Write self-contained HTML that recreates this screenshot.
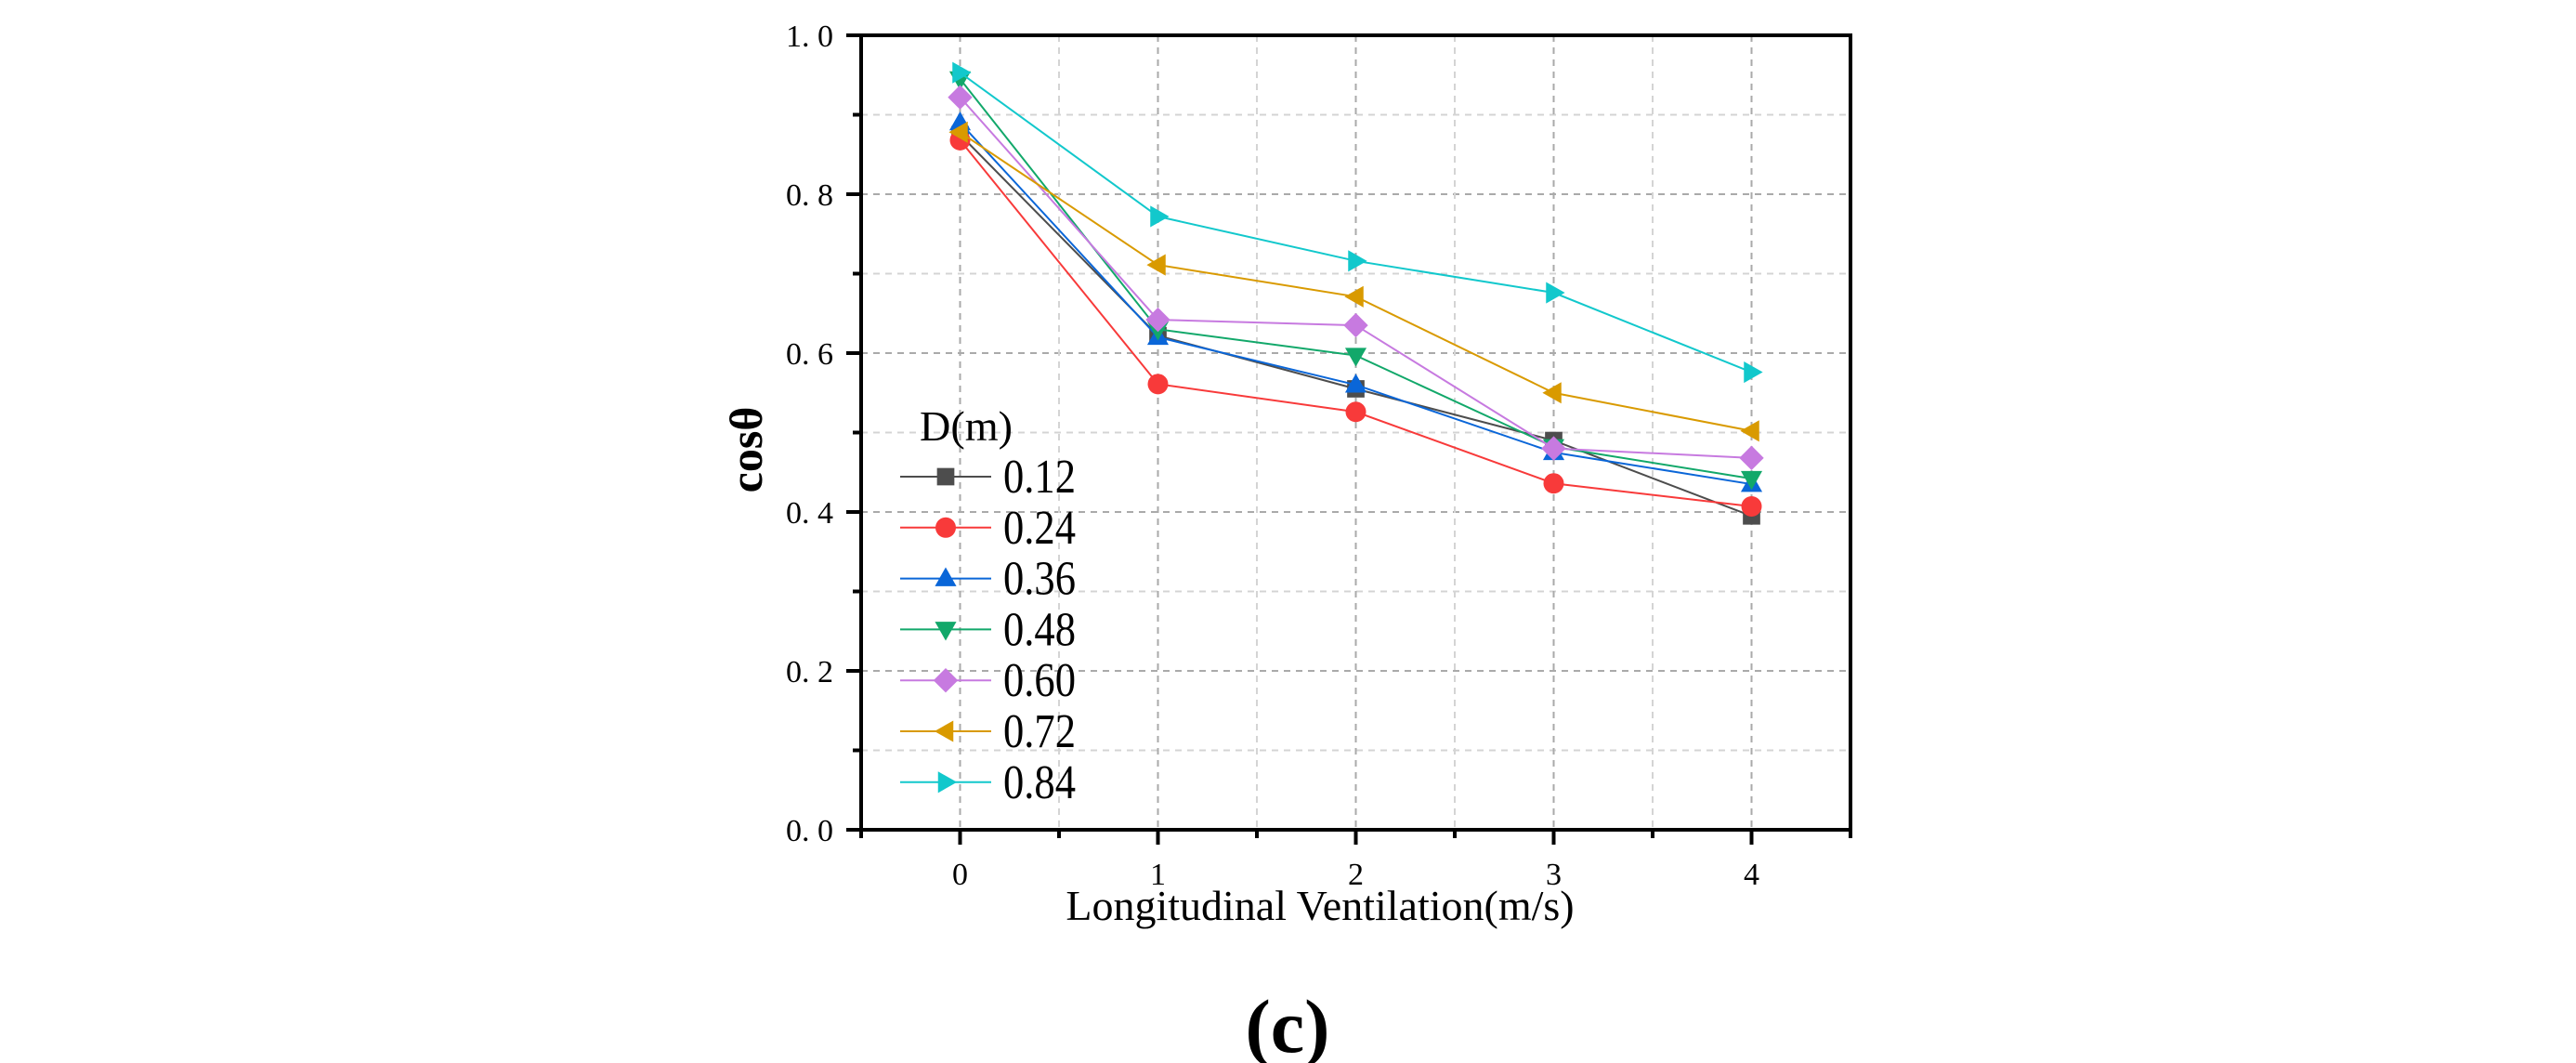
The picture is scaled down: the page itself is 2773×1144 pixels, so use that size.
<!DOCTYPE html>
<html><head><meta charset="utf-8"><style>
html,body{margin:0;padding:0;background:#fff;width:2773px;height:1144px;overflow:hidden}
text{font-family:"Liberation Serif",serif}
</style></head><body>
<svg id="chart" width="2773" height="1144" xmlns="http://www.w3.org/2000/svg">
<g id="grid"></g>
<g id="series"></g>
<g id="axes"></g>
<g id="legend"></g>
<text x="0" y="0" transform="translate(820,484) rotate(-90)" text-anchor="middle" font-size="50" font-weight="bold">cosθ</text>
<text x="1421" y="990" text-anchor="middle" font-size="46">Longitudinal Ventilation(m/s)</text>
<text x="1386" y="1132" text-anchor="middle" font-size="82" font-weight="bold">(c)</text>
</svg>
<script>
const xCats = [0, 1, 2, 3, 4];
const yTicks = [0, 0.2, 0.4, 0.6, 0.8, 1.0];
const yTickLabels = ["0. 0","0. 2","0. 4","0. 6","0. 8","1. 0"];
const seriesNames = ["0.12","0.24","0.36","0.48","0.60","0.72","0.84"];
const s012 = [0.875, 0.622, 0.555, 0.490, 0.395];
const s024 = [0.868, 0.561, 0.526, 0.436, 0.407];
const s036 = [0.890, 0.620, 0.560, 0.475, 0.435];
const s048 = [0.945, 0.630, 0.597, 0.482, 0.442];
const s060 = [0.922, 0.642, 0.635, 0.480, 0.468];
const s072 = [0.878, 0.711, 0.671, 0.550, 0.502];
const s084 = [0.953, 0.772, 0.716, 0.676, 0.576];
const seriesValues = [s012, s024, s036, s048, s060, s072, s084];

const colors = ["#4d4d4d","#f83a3a","#0a66d8","#12a86a","#c77ae0","#d99a00","#12c8cc"];
const shapes = ["square","circle","up","down","diamond","left","right"];
const NS = "http://www.w3.org/2000/svg";
const L=927, R=1992, T=38, B=893, XMIN=-0.5, XMAX=4.5, YMIN=0, YMAX=1;
const xs = v => L + (v - XMIN) / (XMAX - XMIN) * (R - L);
const ys = v => B - (v - YMIN) / (YMAX - YMIN) * (B - T);
function mk(tag, attrs, parent){const e=document.createElementNS(NS,tag);for(const k in attrs)e.setAttribute(k,attrs[k]);parent.appendChild(e);return e;}
const grid=document.getElementById('grid'), axes=document.getElementById('axes'), ser=document.getElementById('series'), leg=document.getElementById('legend');

for(let v=0.1; v<1.0; v+=0.1){
  const major = Math.abs(v*5 - Math.round(v*5))<1e-6;
  const g = mk('line',{x1:L,x2:R,y1:ys(v),y2:ys(v),stroke:major?'#aaa':'#d4d4d4','stroke-width':2,'stroke-dasharray':'7,6'},grid);
  
  
}
for(let v=0; v<=4.01; v+=0.5){
  const major = Math.abs(v-Math.round(v))<1e-6;
  const g = mk('line',{x1:xs(v),x2:xs(v),y1:T,y2:B,stroke:major?'#aaa':'#d4d4d4','stroke-width':2,'stroke-dasharray':'7,6'},grid);
  
  
}

function marker(shape,cx,cy,r,color,parent){
  let e;
  if(shape==='square') e=mk('rect',{x:cx-r*0.85,y:cy-r*0.85,width:r*1.7,height:r*1.7,fill:color},parent);
  else if(shape==='circle') e=mk('circle',{cx:cx,cy:cy,r:r,fill:color},parent);
  else {
    let p;
    if(shape==='up') p=[[cx,cy-r*1.1],[cx-r*1.05,cy+r*0.75],[cx+r*1.05,cy+r*0.75]];
    if(shape==='down') p=[[cx,cy+r*1.1],[cx-r*1.05,cy-r*0.75],[cx+r*1.05,cy-r*0.75]];
    if(shape==='left') p=[[cx-r*1.1,cy],[cx+r*0.75,cy-r*1.05],[cx+r*0.75,cy+r*1.05]];
    if(shape==='right') p=[[cx+r*1.1,cy],[cx-r*0.75,cy-r*1.05],[cx-r*0.75,cy+r*1.05]];
    if(shape==='diamond') p=[[cx,cy-r*1.2],[cx+r*1.2,cy],[cx,cy+r*1.2],[cx-r*1.2,cy]];
    e=mk('polygon',{points:p.map(q=>q.join(',')).join(' '),fill:color},parent);
  }
  return e;
}

seriesValues.forEach((vals,i)=>{
  const g=mk('g',{},ser);
  
  
  const pl=mk('polyline',{points:vals.map((v,j)=>xs(xCats[j])+','+ys(v)).join(' '),fill:'none',stroke:colors[i],'stroke-width':2},g);
  
  
  vals.forEach((v,j)=>{
    const m=marker(shapes[i],xs(xCats[j]),ys(v),11,colors[i],g);
    
    
  });
});

const frame=mk('rect',{x:L,y:T,width:R-L,height:B-T,fill:'none',stroke:'#000','stroke-width':4},axes);


yTicks.forEach((v,i)=>{
  const t=mk('line',{x1:L-16,x2:L,y1:ys(v),y2:ys(v),stroke:'#000','stroke-width':4},axes);
  
  
  const lb=mk('text',{x:897,y:ys(v)+12,'text-anchor':'end','font-size':34},axes);
  lb.textContent=yTickLabels[i];
  
  
});
for(let v=0.1; v<1; v+=0.2){
  const t=mk('line',{x1:L-9,x2:L,y1:ys(v),y2:ys(v),stroke:'#000','stroke-width':4},axes);
  
  
}
xCats.forEach(v=>{
  const t=mk('line',{x1:xs(v),x2:xs(v),y1:B,y2:B+16,stroke:'#000','stroke-width':4},axes);
  
  
  const lb=mk('text',{x:xs(v),y:952,'text-anchor':'middle','font-size':34},axes);
  lb.textContent=String(v);
  
  
});
for(let v=-0.5; v<=4.51; v+=1){
  const t=mk('line',{x1:xs(v),x2:xs(v),y1:B,y2:B+9,stroke:'#000','stroke-width':4},axes);
  
  
}

const lt=mk('text',{x:990,y:474,'font-size':46,'textLength':100,'lengthAdjust':'spacingAndGlyphs'},leg);
lt.textContent='D(m)';


seriesNames.forEach((n,i)=>{
  const y=513+i*54.8;
  const g=mk('g',{},leg);
  
  
  mk('line',{x1:969,x2:1067,y1:y,y2:y,stroke:colors[i],'stroke-width':2},g);
  marker(shapes[i],1018,y,11,colors[i],g);
  const tx=mk('text',{x:1080,y:y+17,'font-size':52,'textLength':78,'lengthAdjust':'spacingAndGlyphs'},g);
  tx.textContent=n;
});
</script>
</body></html>
